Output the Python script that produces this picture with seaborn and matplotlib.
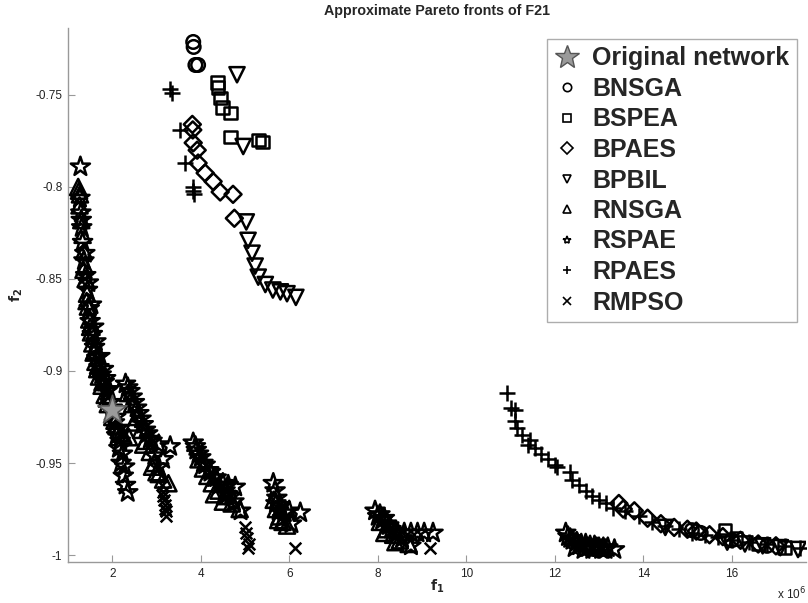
import matplotlib
matplotlib.use("Agg")
import matplotlib.pyplot as plt
from matplotlib.lines import Line2D
import seaborn as sns

# f1 values are in units of 1e6 (axis shows "x 10^6")
orig_x = [2.00]
orig_y = [-0.921]

bnsga_x = [3.83, 3.84, 3.88, 3.94, 15.10, 15.30, 16.00, 16.80]
bnsga_y = [-0.7212, -0.7239, -0.7337, -0.7337, -0.9865, -0.988, -0.992, -0.995]

bspea_x = [4.37, 4.39, 4.44, 4.49, 4.67, 4.67, 5.30, 5.39, 15.85, 16.10, 16.60, 17.20]
bspea_y = [-0.743, -0.746, -0.7516, -0.757, -0.7598, -0.7728, -0.7745, -0.7755,
           -0.9864, -0.991, -0.994, -0.996]

bpaes_x = [3.81, 3.82, 3.83, 3.92, 3.94, 4.10, 4.28, 4.44, 4.73, 4.76,
           13.45, 13.55, 13.80, 14.10, 14.40, 14.70, 15.00, 15.20, 15.50, 15.80, 16.20, 16.60, 17.00]
bpaes_y = [-0.766, -0.769, -0.776, -0.780, -0.787, -0.7924, -0.797, -0.8027, -0.804, -0.817,
           -0.972, -0.975, -0.976, -0.980, -0.983, -0.985, -0.986, -0.987, -0.989, -0.990, -0.992, -0.994, -0.995]

bpbil_x = [4.82, 4.96, 5.03, 5.07, 5.16, 5.23, 5.30, 5.46, 5.63, 5.80, 5.95, 6.15,
           14.50, 15.90, 16.30, 16.70, 17.10, 17.50]
bpbil_y = [-0.739, -0.778, -0.819, -0.829, -0.836, -0.843, -0.849, -0.853, -0.856, -0.857, -0.858, -0.860,
           -0.985, -0.993, -0.994, -0.995, -0.996, -0.997]

rnsga_x = [1.23, 1.25, 1.27, 1.26, 1.30, 1.33, 1.36, 1.38, 1.40, 1.43, 1.45, 1.48, 1.52, 1.55, 1.58,
           1.62, 1.66, 1.70, 1.76, 1.83, 1.90, 2.00, 2.10, 2.20, 2.38,
           1.35, 1.42, 1.50, 1.60, 1.68, 1.78, 1.88, 2.05, 2.15, 2.25,
           2.35, 2.45, 2.55, 2.65, 2.75, 2.85, 2.95, 3.05, 3.15, 3.27,
           2.50, 2.70, 2.90, 3.00,
           3.95, 4.05, 4.15, 4.25, 4.40, 4.55, 4.70, 4.88, 4.30, 4.50,
           5.65, 5.70, 5.78, 5.85, 5.95, 5.75,
           8.05, 8.20, 8.35, 8.50, 8.70, 8.15, 8.40]
rnsga_y = [-0.800, -0.802, -0.804, -0.810, -0.818, -0.826, -0.835, -0.843, -0.850, -0.858, -0.865, -0.872, -0.879, -0.885, -0.890,
           -0.895, -0.899, -0.903, -0.908, -0.913, -0.918, -0.925, -0.930, -0.934, -0.936,
           -0.845, -0.862, -0.876, -0.889, -0.897, -0.906, -0.915, -0.927, -0.932, -0.935,
           -0.912, -0.918, -0.925, -0.932, -0.938, -0.944, -0.950, -0.956, -0.959, -0.961,
           -0.928, -0.940, -0.952, -0.955,
           -0.948, -0.953, -0.957, -0.961, -0.965, -0.968, -0.972, -0.975, -0.967, -0.971,
           -0.970, -0.975, -0.979, -0.982, -0.984, -0.981,
           -0.982, -0.986, -0.989, -0.992, -0.994, -0.988, -0.993]

rspae_x = [1.28, 1.27, 1.29, 1.31, 1.33, 1.36, 1.40, 1.44, 1.48, 1.50, 1.55, 1.60, 1.65, 1.70, 1.75,
           1.82, 1.88, 1.95, 2.05, 2.10, 2.15, 2.20, 2.25, 2.30, 2.35,
           1.30, 1.38, 1.46, 1.53, 1.58, 1.63, 1.72, 1.80, 1.85, 1.92, 2.00, 2.08, 2.13, 2.18, 2.23, 2.28,
           2.30, 2.40, 2.50, 2.60, 2.70, 2.80, 2.90, 3.05, 3.31, 2.95, 3.05,
           2.35, 2.45, 2.55, 2.65, 2.75, 2.85, 3.15,
           3.83, 3.90, 4.00, 4.10, 4.22, 4.35, 4.50, 4.62, 4.78, 4.60, 4.75, 4.90,
           3.88, 3.95, 4.05, 4.18, 4.30, 4.42, 4.55, 4.68,
           5.64, 5.68, 5.72, 5.80, 5.90, 6.00, 6.25, 6.05, 5.70, 5.76, 5.85,
           7.94, 8.00, 8.10, 8.20, 8.30, 8.45, 8.60, 8.75, 8.90, 9.05, 9.25, 8.55, 8.75,
           8.05, 8.15, 8.25, 8.40,
           12.25, 12.30, 12.40, 12.50, 12.60, 12.70, 12.80, 12.90, 13.00, 13.10, 13.20, 13.35,
           12.45, 12.65, 12.85, 13.05, 12.35, 12.55, 12.75, 12.95, 13.15]
rspae_y = [-0.789, -0.806, -0.814, -0.822, -0.830, -0.840, -0.848, -0.856, -0.866, -0.873, -0.880, -0.887, -0.893, -0.898, -0.902,
           -0.906, -0.911, -0.917, -0.928, -0.935, -0.942, -0.950, -0.957, -0.962, -0.966,
           -0.818, -0.836, -0.852, -0.864, -0.876, -0.884, -0.892, -0.899, -0.904, -0.910, -0.920, -0.925, -0.931, -0.938, -0.945, -0.952,
           -0.907, -0.911, -0.917, -0.923, -0.929, -0.934, -0.938, -0.940, -0.941, -0.946, -0.952,
           -0.909, -0.914, -0.920, -0.926, -0.932, -0.937, -0.948,
           -0.939, -0.943, -0.947, -0.951, -0.955, -0.958, -0.961, -0.962, -0.963, -0.967, -0.971, -0.976,
           -0.941, -0.945, -0.950, -0.954, -0.958, -0.962, -0.965, -0.968,
           -0.961, -0.965, -0.969, -0.973, -0.977, -0.976, -0.977, -0.983, -0.972, -0.976, -0.980,
           -0.976, -0.979, -0.981, -0.983, -0.986, -0.988, -0.988, -0.988, -0.988, -0.988, -0.988, -0.991, -0.995,
           -0.978, -0.980, -0.984, -0.987,
           -0.988, -0.990, -0.992, -0.993, -0.994, -0.994, -0.995, -0.995, -0.996, -0.996, -0.996, -0.997,
           -0.996, -0.997, -0.997, -0.997, -0.991, -0.995, -0.996, -0.996, -0.997]

rpaes_x = [3.31, 3.36, 3.54, 3.65, 3.83, 3.83, 3.85,
           10.93, 11.02, 11.10, 11.10, 11.15, 11.25, 11.45, 11.40, 11.55, 11.70, 11.85, 12.00, 12.06,
           12.35, 12.40, 12.55, 12.70, 12.85, 13.00, 13.15, 13.32, 13.60, 13.90, 14.20, 14.50, 14.80,
           15.10, 15.40, 15.70, 16.00, 16.40, 16.80, 17.20, 17.55]
rpaes_y = [-0.747, -0.749, -0.769, -0.787, -0.800, -0.802, -0.804,
           -0.912, -0.920, -0.921, -0.927, -0.931, -0.935, -0.9375, -0.940, -0.942, -0.945, -0.948, -0.951, -0.952,
           -0.955, -0.959, -0.962, -0.965, -0.968, -0.970, -0.972, -0.9745, -0.976, -0.979, -0.982, -0.984, -0.986,
           -0.988, -0.989, -0.990, -0.992, -0.993, -0.994, -0.995, -0.996]

rmpso_x = [6.14, 9.19, 5.00, 5.02, 5.05, 5.08, 5.07, 3.12, 3.15, 3.18, 3.20, 3.22, 3.22, 3.14, 3.19]
rmpso_y = [-0.996, -0.996, -0.985, -0.988, -0.991, -0.994, -0.996, -0.962, -0.966, -0.970, -0.973, -0.976, -0.979, -0.968, -0.975]

series = [
    ("BNSGA", bnsga_x, bnsga_y, "o"),
    ("BSPEA", bspea_x, bspea_y, "s"),
    ("BPAES", bpaes_x, bpaes_y, "D"),
    ("BPBIL", bpbil_x, bpbil_y, "v"),
    ("RNSGA", rnsga_x, rnsga_y, "^"),
    ("RSPAE", rspae_x, rspae_y, "*"),
    ("RPAES", rpaes_x, rpaes_y, "+"),
    ("RMPSO", rmpso_x, rmpso_y, "x"),
]
marker_size = {"o": 95, "s": 85, "D": 75, "v": 120, "^": 135, "*": 210, "+": 130, "x": 70}

sns.set_theme(style="white")
plt.rcParams['font.family'] = ['Liberation Sans', 'DejaVu Sans']

fig = plt.figure(figsize=(8.08, 6.03), dpi=100)
ax = fig.add_axes([68 / 808, 41 / 603, 738 / 808, 534 / 603])

for name, xs, ys, mk in series:
    if mk in ("+", "x"):
        sns.scatterplot(x=xs, y=ys, marker=mk, s=marker_size[mk], color="black",
                        linewidth=1.8, ax=ax, zorder=3)
    else:
        sns.scatterplot(x=xs, y=ys, marker=mk, s=marker_size[mk], facecolor="none",
                        edgecolor="black", linewidth=1.8, ax=ax, zorder=3)

sns.scatterplot(x=orig_x, y=orig_y, marker="*", s=480, facecolor="#9a9a9a",
                edgecolor="#555555", linewidth=1.2, ax=ax, zorder=5)

ax.set_xlim(1.0, 17.68)
ax.set_ylim(-1.0038, -0.7136)
ax.set_xticks([2, 4, 6, 8, 10, 12, 14, 16])
ax.set_xticklabels(["2", "4", "6", "8", "10", "12", "14", "16"])
ax.set_yticks([-1, -0.95, -0.9, -0.85, -0.8, -0.75])
ax.set_yticklabels(["-1", "-0.95", "-0.9", "-0.85", "-0.8", "-0.75"])

for side in ["top", "right"]:
    ax.spines[side].set_visible(False)
for side in ["left", "bottom"]:
    ax.spines[side].set_color("#999999")
    ax.spines[side].set_linewidth(1.0)
ax.tick_params(direction="in", length=5, width=0.8, color="#999999",
               labelsize=8.5, labelcolor="#222222", pad=4,
               left=True, bottom=True)

ax.set_title("Approximate Pareto fronts of F21", fontsize=10.3, fontweight="bold", pad=9)
ax.set_xlabel("$\\mathbf{f_1}$", fontsize=10)
ax.set_ylabel("$\\mathbf{f_2}$", fontsize=10)
ax.xaxis.set_label_coords(0.5, -0.03)
ax.yaxis.set_label_coords(-0.058, 0.5)
fig.text(806 / 808, 1 - 594 / 603, "x 10$^6$", fontsize=8.5, ha="right", va="center", color="#222222")

handles = [Line2D([], [], linestyle="none", marker="*", markersize=18,
                  markerfacecolor="#9a9a9a", markeredgecolor="#555555", markeredgewidth=1.0)]
for name, xs, ys, mk in series:
    if mk in ("+", "x"):
        handles.append(Line2D([], [], linestyle="none", marker=mk, markersize=6,
                              color="black", markeredgewidth=1.2))
    else:
        handles.append(Line2D([], [], linestyle="none", marker=mk, markersize=6,
                              markerfacecolor="none", markeredgecolor="black", markeredgewidth=1.2))
labels = ["Original network"] + [s[0] for s in series]

leg = ax.legend(handles, labels, loc="upper right", bbox_to_anchor=(797 / 808, 1 - 39 / 603),
                bbox_transform=fig.transFigure, prop={"weight": "bold", "size": 18},
                frameon=True, fancybox=False, handlelength=1.0, handletextpad=0.5,
                labelspacing=0.26, borderpad=0.3, borderaxespad=0)
leg.get_frame().set_edgecolor("#999999")
leg.get_frame().set_linewidth(1.0)

fig.savefig("out.png", dpi=100)
